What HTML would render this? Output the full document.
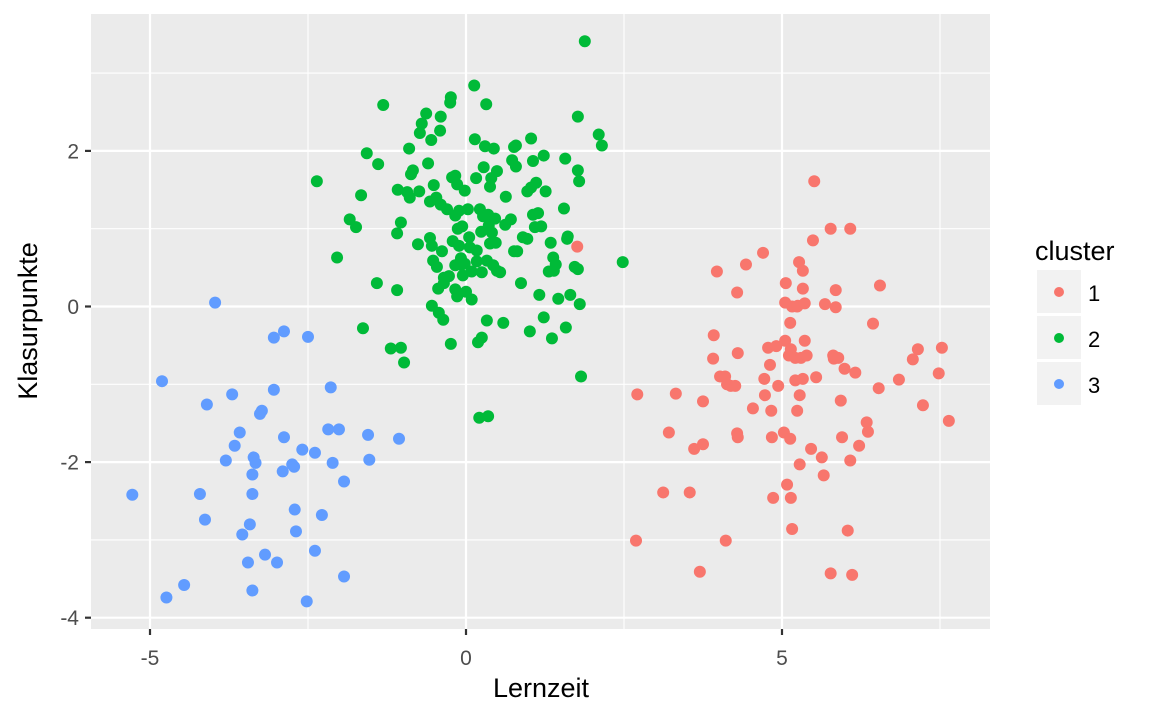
<!DOCTYPE html>
<html><head><meta charset="utf-8"><style>
body{margin:0;background:#fff}
svg{display:block;font-family:"Liberation Sans",sans-serif}
</style></head><body>
<svg id="chart" width="1152" height="711">
<rect x="91" y="14" width="899" height="615" fill="#EBEBEB"/>
<g id="grid"></g>
<g id="pts"></g>
<g id="axes"></g>
<text x="541" y="697" text-anchor="middle" font-size="27" fill="#000">Lernzeit</text>
<text transform="translate(37,321) rotate(-90)" text-anchor="middle" font-size="27" fill="#000">Klasurpunkte</text>
<g>
<text x="1035" y="260" font-size="27" fill="#000">cluster</text>
<g><rect x="1037" y="270" width="44" height="43" fill="#F2F2F2"/><circle cx="1059" cy="292" r="5" fill="#F8766D"/><text x="1088" y="301" font-size="22" fill="#000">1</text></g>
<g><rect x="1037" y="316" width="44" height="43" fill="#F2F2F2"/><circle cx="1059" cy="338" r="5" fill="#00BA38"/><text x="1088" y="347" font-size="22" fill="#000">2</text></g>
<g><rect x="1037" y="362" width="44" height="43" fill="#F2F2F2"/><circle cx="1059" cy="384" r="5" fill="#619CFF"/><text x="1088" y="393" font-size="22" fill="#000">3</text></g>
</g>
</svg>
<script>
const xTicks=[-5,0,5];
const yTicks=[2,0,-2,-4];
const xMinor=[-2.5,2.5,7.5];
const yMinor=[3,1,-1,-3];
const redX=[1.76,2.71,2.69,3.12,3.21,3.32,3.54,3.61,3.75,3.75,3.70,3.91,3.92,3.97,4.02,4.10,4.13,4.19,4.11,4.26,4.29,4.30,4.29,4.30,4.43,4.54,4.70,4.72,4.73,4.78,4.81,4.83,4.84,4.86,4.91,4.94,5.03,5.05,5.05,5.06,5.08,5.11,5.14,5.16,5.13,5.13,5.14,5.16,5.21,5.21,5.24,5.24,5.25,5.27,5.28,5.28,5.30,5.33,5.33,5.33,5.36,5.39,5.46,5.49,5.51,5.54,5.68,5.63,5.66,5.77,5.77,5.81,5.82,5.85,5.85,5.89,5.93,5.95,5.99,6.04,6.08,6.08,6.11,6.16,6.22,6.34,6.36,6.44,6.53,6.55,6.85,7.07,7.15,7.23,7.48,7.53,7.64,5.36];
const redY=[0.77,-1.13,-3.01,-2.39,-1.62,-1.12,-2.39,-1.83,-1.22,-1.77,-3.41,-0.67,-0.37,0.45,-0.90,-0.90,-1.00,-1.02,-3.01,-1.02,0.18,-0.60,-1.63,-1.68,0.54,-1.31,0.69,-0.93,-1.14,-0.53,-0.75,-1.34,-1.68,-2.46,-0.51,-1.02,-1.62,0.05,-0.44,0.30,-2.29,-0.63,-0.55,0.0,-0.21,-1.70,-2.46,-2.86,-0.66,-0.95,0.0,-1.34,0.01,0.57,-1.14,-2.03,-0.66,-0.93,0.46,0.23,0.04,-0.63,-1.83,0.85,1.61,-0.91,0.03,-1.94,-2.17,1.0,-3.43,-0.63,-0.67,0.21,-0.01,-0.66,-1.21,-1.68,-0.80,-2.88,1.0,-1.98,-3.45,-0.85,-1.79,-1.49,-1.61,-0.22,-1.05,0.27,-0.94,-0.68,-0.55,-1.27,-0.86,-0.53,-1.47,-0.44];
const greenX=[1.88,1.77,2.10,2.15,2.48,-1.31,-2.36,-1.57,-1.39,-1.66,-1.84,-1.74,-2.04,-1.63,-1.41,-1.19,-1.03,-0.98,-1.09,-1.09,-1.08,-1.03,-0.93,-0.90,-0.87,-0.89,-0.74,-0.76,-0.73,-0.70,-0.63,-0.60,-0.57,-0.57,-0.55,-0.54,-0.54,-0.52,-0.51,-0.47,-0.46,-0.44,-0.43,-0.41,-0.40,-0.40,-0.38,-0.36,-0.35,-0.35,-0.30,-0.27,-0.25,-0.24,-0.24,-0.22,-0.21,-0.17,-0.17,-0.17,-0.14,-0.14,-0.13,-0.11,-0.09,-0.08,-0.06,-0.05,-0.02,-0.02,0,0.03,0.05,0.06,0.09,0.09,0.13,0.14,0.16,0.17,0.17,0.19,0.21,0.22,0.24,0.25,0.25,0.27,0.28,0.30,0.32,0.33,0.33,0.35,0.35,0.36,0.38,0.38,0.40,0.41,0.43,0.44,0.46,0.47,0.49,0.49,0.54,0.59,0.62,0.63,0.71,0.73,0.76,0.76,0.79,0.81,0.87,0.90,0.97,0.97,1.01,1.03,1.03,1.06,1.06,1.09,1.11,1.14,1.16,1.19,1.23,1.31,1.36,1.34,1.38,1.39,1.42,1.46,1.55,1.57,1.58,1.60,1.65,1.72,1.77,1.79,1.77,1.80,1.82,1.61,1.26,1.23,0.79,-0.17,-0.11,-0.84];
const greenY=[3.41,2.44,2.21,2.07,0.57,2.59,1.61,1.97,1.83,1.43,1.12,1.02,0.63,-0.28,0.30,-0.54,-0.53,-0.72,0.94,0.21,1.50,1.08,1.47,2.03,1.70,1.40,1.48,0.80,2.23,2.35,2.48,1.84,1.35,0.88,2.14,0.78,0.01,0.59,1.56,1.40,0.51,0.23,-0.08,2.26,2.44,1.31,0.71,-0.17,0.37,0.30,1.25,0.39,2.62,2.69,-0.48,1.66,0.84,1.17,0.53,0.22,1.57,0.13,1.0,0.78,0.54,0.62,1.03,0.40,1.49,0.55,0.19,1.25,0.89,0.76,0.45,0.09,2.84,2.15,1.65,0.72,0.58,-0.46,-1.43,1.25,0.96,-0.40,0.44,1.16,1.79,2.06,2.60,0.59,-0.18,-1.41,1.18,1.04,0.81,1.54,1.65,0.95,0.53,2.03,1.13,0.82,1.74,0.46,0.44,-0.21,1.05,1.41,1.12,1.88,2.05,0.71,1.80,0.71,0.30,0.89,1.48,0.87,-0.32,2.16,1.53,1.18,1.87,1.02,1.59,1.2,0.15,1.03,-0.14,0.45,-0.41,0.82,0.63,0.46,0.54,0.10,1.26,1.90,-0.27,0.87,0.15,0.51,1.75,1.61,0.48,0.03,-0.90,0.90,1.48,1.94,2.07,1.68,1.23,1.75];
const blueX=[-5.28,-4.81,-3.97,-4.10,-4.74,-4.46,-4.21,-4.13,-3.70,-3.66,-3.58,-3.80,-3.54,-3.45,-3.38,-3.42,-3.38,-3.38,-3.36,-3.33,-3.23,-3.26,-3.18,-3.04,-3.04,-2.99,-2.90,-2.88,-2.88,-2.75,-2.72,-2.71,-2.69,-2.59,-2.50,-2.52,-2.39,-2.39,-2.28,-2.18,-2.14,-2.11,-2.01,-1.93,-1.93,-1.55,-1.53,-1.06];
const blueY=[-2.42,-0.96,0.05,-1.26,-3.74,-3.58,-2.41,-2.74,-1.13,-1.79,-1.62,-1.98,-2.93,-3.29,-3.65,-2.80,-2.41,-2.16,-1.94,-2.01,-1.34,-1.38,-3.19,-0.40,-1.07,-3.29,-2.12,-0.32,-1.68,-2.03,-2.06,-2.61,-2.89,-1.84,-0.39,-3.79,-1.88,-3.14,-2.68,-1.58,-1.04,-2.01,-1.58,-2.25,-3.47,-1.65,-1.97,-1.70];
const x0=91,x1=990,y0=14,y1=629;
const xs=v=>466+v*63.2;
const ys=v=>306.5-v*77.8;
const NS='http://www.w3.org/2000/svg';
function mk(tag,attrs,parent){const e=document.createElementNS(NS,tag);for(const k in attrs)e.setAttribute(k,attrs[k]);parent.appendChild(e);return e;}
const grid=document.getElementById('grid'),pts=document.getElementById('pts'),axes=document.getElementById('axes');
xMinor.forEach(v=>{const l=mk('line',{x1:xs(v),x2:xs(v),y1:y0,y2:y1,stroke:'#fff','stroke-width':1.1},grid);

});
yMinor.forEach(v=>{const l=mk('line',{x1:x0,x2:x1,y1:ys(v),y2:ys(v),stroke:'#fff','stroke-width':1.1},grid);

});
xTicks.forEach(v=>{const l=mk('line',{x1:xs(v),x2:xs(v),y1:y0,y2:y1,stroke:'#fff','stroke-width':2.2},grid);


const t=mk('line',{x1:xs(v),x2:xs(v),y1:y1,y2:y1+6,stroke:'#333','stroke-width':2.2},axes);


const tx=mk('text',{x:xs(v),y:665,'text-anchor':'middle','font-size':21,fill:'#4D4D4D'},axes);tx.textContent=v;

});
yTicks.forEach(v=>{const l=mk('line',{x1:x0,x2:x1,y1:ys(v),y2:ys(v),stroke:'#fff','stroke-width':2.2},grid);


const t=mk('line',{x1:x0-6,x2:x0,y1:ys(v),y2:ys(v),stroke:'#333','stroke-width':2.2},axes);


const tx=mk('text',{x:79,y:ys(v)+7.5,'text-anchor':'end','font-size':21,fill:'#4D4D4D'},axes);tx.textContent=v;

});
function series(X,Y,col,name){X.forEach((v,i)=>{const c=mk('circle',{cx:xs(v),cy:ys(Y[i]),r:6,fill:col},pts);

});}
series(redX,redY,'#F8766D','point-cluster-1');
series(greenX,greenY,'#00BA38','point-cluster-2');
series(blueX,blueY,'#619CFF','point-cluster-3');
</script>
</body></html>
